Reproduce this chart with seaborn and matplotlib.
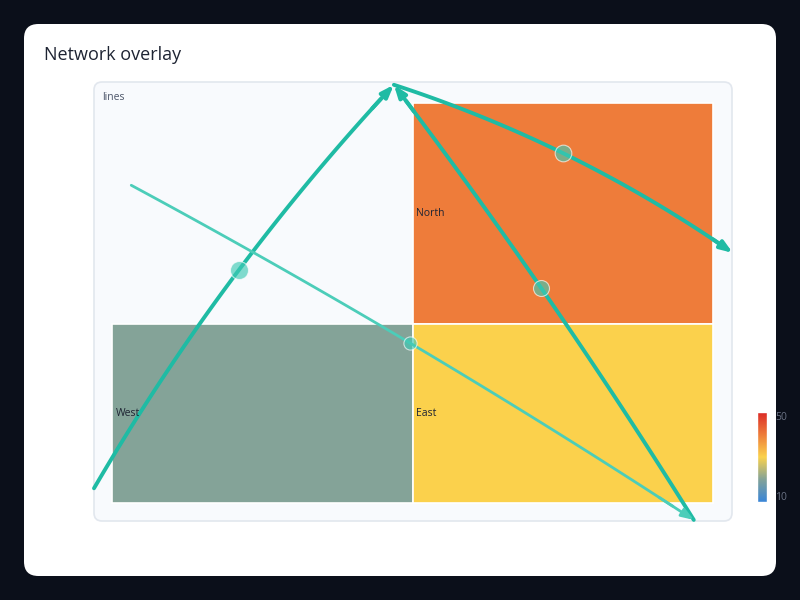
import numpy as np
import pandas as pd
import matplotlib
matplotlib.use("Agg")
import matplotlib.pyplot as plt
import seaborn as sns
from matplotlib.patches import FancyBboxPatch, Rectangle
from matplotlib.colors import LinearSegmentedColormap, Normalize

sns.set_theme(style="white")
plt.rcParams['font.family'] = ['Open Sans', 'DejaVu Sans']

# treemap cells (x0, y0, width, height in panel units 0-100) and colour values
cells = ["North", "West", "East"]
cell_x = [50, 0, 50]
cell_y = [44.7, 0, 0]
cell_w = [50, 50, 50]
cell_h = [55.3, 44.7, 44.7]
cell_val = [40, 20, 30]

# network nodes
nodes = ["A", "B", "C", "D", "E"]
node_x = [-3.0, 46.9, 103.3, 96.8, 3.2]
node_y = [3.7, 104.5, 62.5, -4.2, 79.4]

# edges: source, target, width, bend (curve midpoint offset, px),
# marker size and where along the edge the marker sits
edge_src = ["A", "B", "D", "E"]
edge_dst = ["B", "C", "B", "D"]
edge_w = [2.8, 2.8, 2.8, 2.0]
edge_bend = [14, 14, 6, 7]
edge_mark = [13, 12, 11.5, 9.5]
edge_t = [0.52, 0.48, 0.525, 0.49]

cmap = LinearSegmentedColormap.from_list(
    "net", ["#3a86d8", "#84a398", "#fbd24c", "#ee7d3a", "#dc2b27"])
norm = Normalize(10, 50)

fig = plt.figure(figsize=(8, 6), dpi=100)
fig.patch.set_facecolor("#0b0f1a")

def px(x, y, w, h):
    return [x / 800, 1 - (y + h) / 600, w / 800, h / 600]

card = FancyBboxPatch((24 / 800, 24 / 600), 752 / 800, 552 / 600,
                      boxstyle="round,pad=0,rounding_size=0.018",
                      transform=fig.transFigure, facecolor="white",
                      edgecolor="none", mutation_aspect=800 / 600, zorder=-3)
fig.patches.append(card)
fig.text(44 / 800, 1 - 55 / 600, "Network overlay", fontsize=13,
         color="#1e2433", va="center", ha="left")

panel = FancyBboxPatch((94 / 800, 1 - 521 / 600), 638 / 800, 439 / 600,
                       boxstyle="round,pad=0,rounding_size=0.01",
                       transform=fig.transFigure, facecolor="#f8fafd",
                       edgecolor="#e2e7ee", linewidth=1.2,
                       mutation_aspect=800 / 600, zorder=-2)
fig.patches.append(panel)
fig.text(102 / 800, 1 - 97 / 600, "lines", fontsize=7.5, color="#4b5468",
         va="center", ha="left")

ax = fig.add_axes(px(94, 82, 638, 439))
ax.set_xlim(-3.0, 103.16)
ax.set_ylim(-4.47, 105.2)
ax.axis("off")
ax.patch.set_alpha(0)

df_cells = pd.DataFrame({"name": cells, "x": cell_x, "y": cell_y,
                         "w": cell_w, "h": cell_h, "val": cell_val})
for _, r in df_cells.iterrows():
    ax.add_patch(Rectangle((r["x"], r["y"]), r["w"], r["h"],
                           facecolor=cmap(norm(r["val"])),
                           edgecolor="white", linewidth=1.2))
    ax.text(r["x"] + 0.6, r["y"] + r["h"] / 2, r["name"], fontsize=7.5,
            color="#1e2433", va="center", ha="left")

pos = dict(zip(nodes, zip(node_x, node_y)))
# work in pixel-like units so bends are in screen px
sx, sy = 6.01, 4.03
for s, d, w, b, m, tm in zip(edge_src, edge_dst, edge_w, edge_bend,
                             edge_mark, edge_t):
    p0 = np.array(pos[s]) * [sx, sy]
    p2 = np.array(pos[d]) * [sx, sy]
    v = p2 - p0
    n = np.array([-v[1], v[0]]) / np.linalg.norm(v)
    if n[1] < 0:
        n = -n
    mid = (p0 + p2) / 2 + n * b
    c = 2 * mid - (p0 + p2) / 2
    t = np.linspace(0, 1, 80)[:, None]
    curve = (1 - t) ** 2 * p0 + 2 * (1 - t) * t * c + t ** 2 * p2
    curve = curve / [sx, sy]
    col = "#1fbba4" if w > 2.5 else "#4ccdb9"
    sns.lineplot(x=curve[:-3, 0], y=curve[:-3, 1], ax=ax, color=col,
                 linewidth=w, sort=False, estimator=None, clip_on=False)
    ax.annotate("", xy=curve[-1], xytext=curve[-6],
                arrowprops=dict(arrowstyle="-|>,head_length=0.6,head_width=0.22",
                                color=col, lw=w, shrinkA=0, shrinkB=0),
                annotation_clip=False)
    mm = ((1 - tm) ** 2 * p0 + 2 * (1 - tm) * tm * c + tm ** 2 * p2) / [sx, sy]
    ax.plot(mm[0], mm[1], "o", markersize=m, color="#3fc9b4",
            alpha=0.65, markeredgecolor="white", markeredgewidth=0.8,
            clip_on=False, zorder=5)

cax = fig.add_axes(px(757, 412, 10, 90))
grad = np.linspace(10, 50, 200)[:, None]
cax.imshow(grad, aspect="auto", cmap=cmap, norm=norm, origin="lower",
           extent=[0, 1, 10, 50])
cax.set_xticks([])
cax.set_yticks([])
for sp in cax.spines.values():
    sp.set_edgecolor("white")
    sp.set_linewidth(1)
fig.text(775 / 800, 1 - 417 / 600, "50", fontsize=7.5, color="#6b7385",
         va="center", ha="left")
fig.text(775 / 800, 1 - 497 / 600, "10", fontsize=7.5, color="#6b7385",
         va="center", ha="left")

fig.savefig("out.png", dpi=100, facecolor=fig.get_facecolor())
